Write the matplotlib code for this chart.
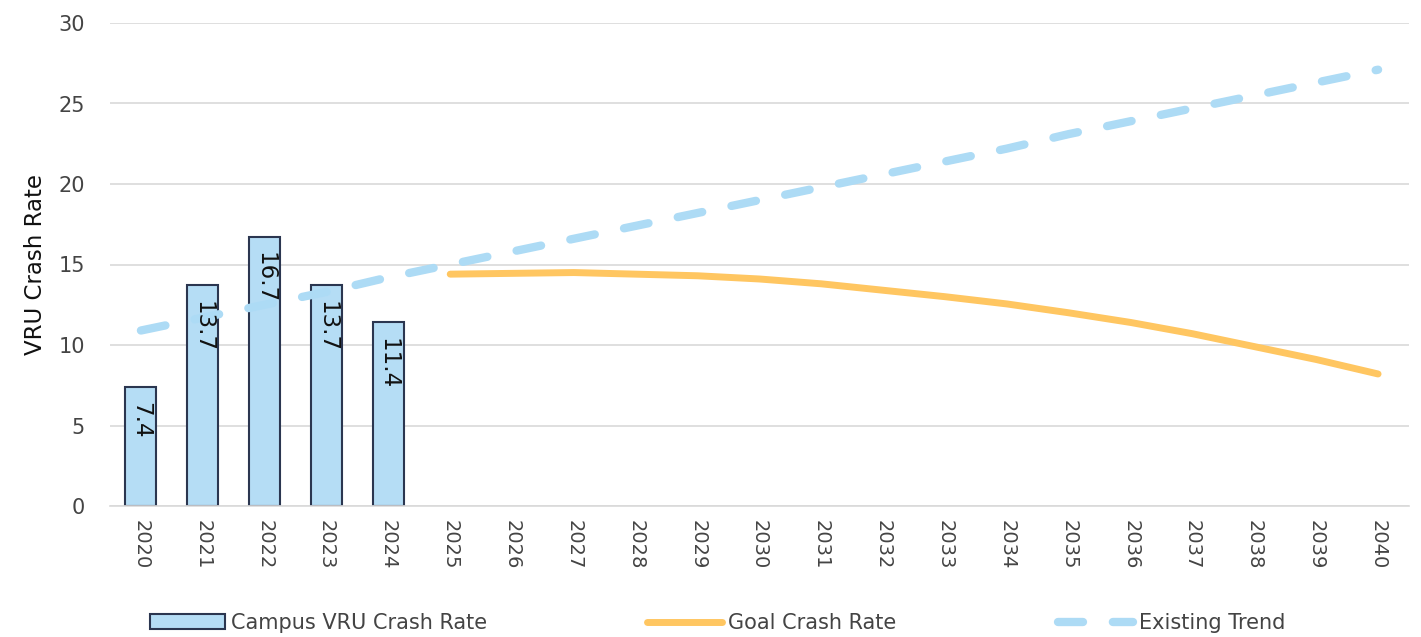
import numpy as np
import matplotlib.pyplot as plt

years = [str(y) for y in range(2020, 2041)]

# campus VRU crash rate (actuals)
bar_years = ["2020", "2021", "2022", "2023", "2024"]
bar_values = [7.4, 13.7, 16.7, 13.7, 11.4]

# goal crash rate, 2025-2040
goal_years = [str(y) for y in range(2025, 2041)]
goal_values = [14.4, 14.45, 14.5, 14.4, 14.3, 14.1, 13.8, 13.4,
               13.0, 12.55, 12.0, 11.4, 10.7, 9.9, 9.1, 8.2]

# existing trend, 2020-2040
trend_values = [10.9, 11.7, 12.5, 13.3, 14.2, 15.0, 15.8, 16.6, 17.4, 18.2,
                19.0, 19.8, 20.6, 21.4, 22.2, 23.1, 23.9, 24.7, 25.5, 26.3, 27.1]

bar_color = '#b5ddf5'
bar_edge = '#2b3650'
goal_color = '#ffc661'
trend_color = '#addbf5'

fig = plt.figure(figsize=(14.21, 6.37), dpi=100)
ax = fig.add_axes([110 / 1421, 1 - 506 / 637, 1299 / 1421, 483 / 637])

x = np.arange(len(years))
pos = {y: i for i, y in enumerate(years)}

bx = [pos[y] for y in bar_years]
bars = ax.bar(bx, bar_values, width=0.5, color=bar_color, edgecolor=bar_edge,
              linewidth=1.5, zorder=2, label='Campus VRU Crash Rate')
for xi, v in zip(bx, bar_values):
    ax.text(xi, v - 0.95, f"{v:.1f}", rotation=-90, ha='center', va='top',
            fontsize=16.5, color='#111111', zorder=6)

gx = [pos[y] for y in goal_years]
goal_line, = ax.plot(gx, goal_values, color=goal_color, linewidth=5,
                     solid_capstyle='round', zorder=4, label='Goal Crash Rate')

# dash period chosen so the line ends on a dot at 2040, like the original
trend_line, = ax.plot(x, trend_values, color=trend_color, linewidth=6,
                      linestyle=(0, (3.0, 3.584)), dash_capstyle='round',
                      zorder=5, label='Existing Trend')

ax.set_xlim(-0.5, len(years) - 0.5)
ax.set_ylim(0, 30)
ax.set_yticks(range(0, 31, 5))
ax.set_xticks(x)
ax.set_xticklabels(years, rotation=-90, fontsize=14, color='#444444')
ax.tick_params(axis='y', labelsize=15, colors='#444444', length=0, pad=18)
ax.tick_params(axis='x', length=0, pad=10)
ax.grid(axis='y', color='#d9d9d9', linewidth=1.2, zorder=0)
ax.set_axisbelow(True)
for s in ['top', 'right', 'left']:
    ax.spines[s].set_visible(False)
ax.spines['bottom'].set_color('#d9d9d9')
ax.spines['bottom'].set_linewidth(1.2)
ax.set_ylabel('VRU Crash Rate', fontsize=16.5, color='#111111', labelpad=8)

# three legend entries placed separately along the bottom
legend_x = [150 / 1421, 647 / 1421, 1058 / 1421]
for h, lx in zip([bars, goal_line, trend_line], legend_x):
    fig.legend(handles=[h], loc='center left', bbox_to_anchor=(lx, 0.022),
               frameon=False, fontsize=15, labelcolor='#444444',
               handlelength=3.6, handletextpad=0.3, borderpad=0,
               borderaxespad=0)

fig.savefig('out.png', dpi=100)
